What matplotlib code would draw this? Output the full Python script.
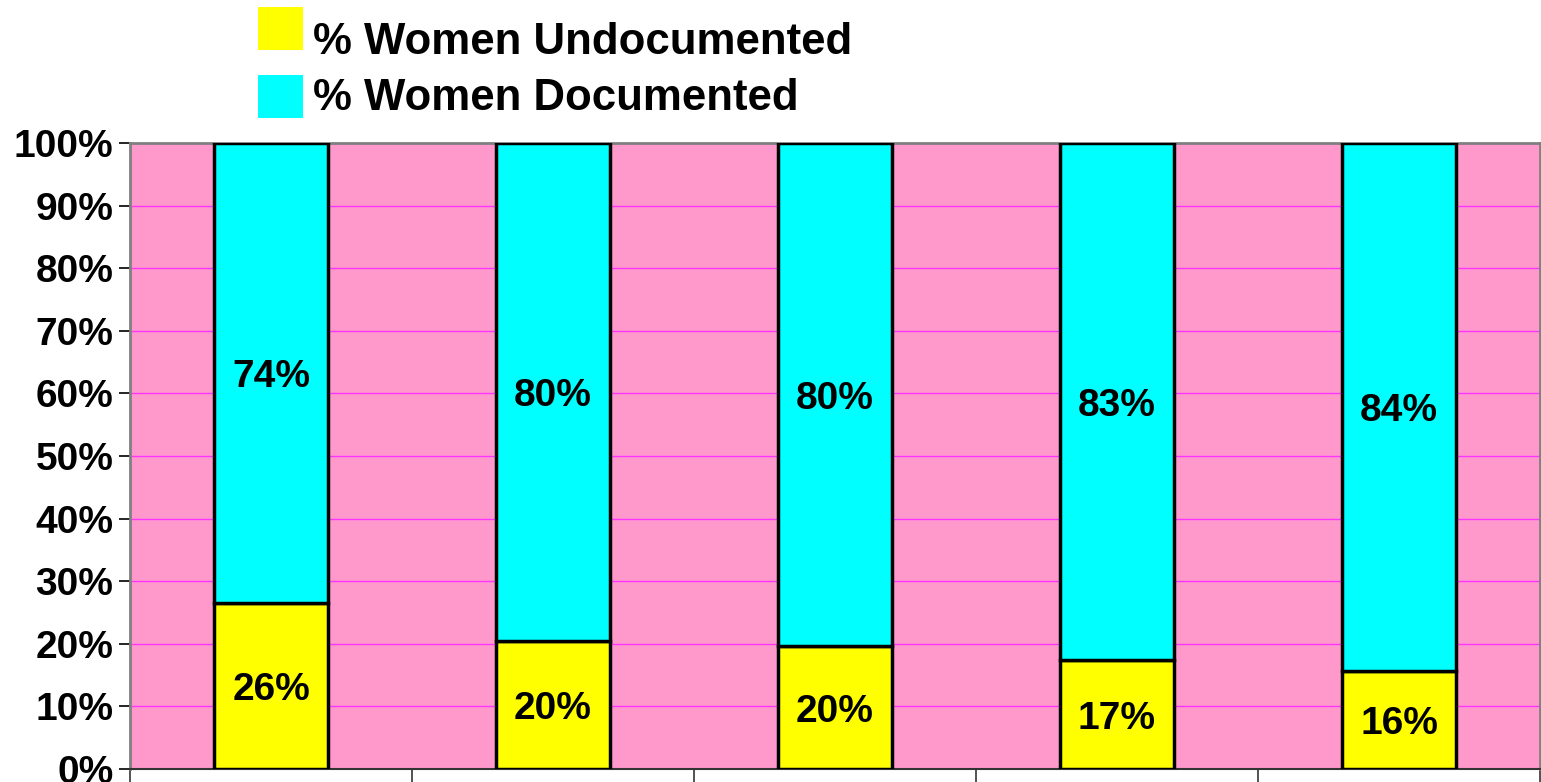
import matplotlib.pyplot as plt
from matplotlib.patches import Rectangle
import numpy as np

categories = ["1", "2", "3", "4", "5"]
undocumented = [26.5, 20.4, 19.6, 17.4, 15.7]
documented = [73.5, 79.6, 80.4, 82.6, 84.3]
undoc_labels = ["26%", "20%", "20%", "17%", "16%"]
doc_labels = ["74%", "80%", "80%", "83%", "84%"]
series_names = ["% Women Undocumented", "% Women Documented"]
series_colors = ["#FFFF00", "#00FFFF"]
yticks = [0, 10, 20, 30, 40, 50, 60, 70, 80, 90, 100]

plt.rcParams['font.family'] = ['Liberation Sans', 'DejaVu Sans']
plt.rcParams['font.weight'] = 'bold'

W, H = 1541, 782
fig = plt.figure(figsize=(W/100, H/100), dpi=100)
ax = fig.add_axes([130/W, 1-769/H, (1540-130)/W, (769-143)/H])
ax.set_facecolor('#FF99CC')

x = np.arange(len(categories))
w = 0.405
ax.bar(x, undocumented, w, color=series_colors[0], edgecolor='black', linewidth=2.5, zorder=3)
ax.bar(x, documented, w, bottom=undocumented, color=series_colors[1], edgecolor='black',
       linewidth=2.5, zorder=3)

for i in range(len(categories)):
    ax.annotate(undoc_labels[i], (x[i], undocumented[i]/2), xytext=(0, -4),
                textcoords='offset pixels', ha='center', va='center',
                fontsize=28, fontweight='bold', zorder=4)
    ax.annotate(doc_labels[i], (x[i], undocumented[i] + documented[i]/2), xytext=(0, -4),
                textcoords='offset pixels', ha='center', va='center',
                fontsize=28, fontweight='bold', zorder=4)

ax.set_xlim(-0.5, len(categories)-0.5)
ax.set_ylim(0, 100)
ax.set_yticks(yticks)
ax.set_yticklabels([f"{t}%" for t in yticks], fontsize=28, fontweight='bold')
ax.set_xticks(np.arange(-0.5, len(categories)))
ax.set_xticklabels([])
ax.tick_params(axis='y', length=8, width=1.2, pad=4, color='black')
ax.tick_params(axis='x', length=10, width=1.2, color='#333333')
ax.yaxis.grid(True, color='#FF33FF', linewidth=1.0, zorder=1)
ax.set_axisbelow(True)

for s in ['top', 'right', 'left']:
    ax.spines[s].set_color('#808080')
    ax.spines[s].set_linewidth(2)
ax.spines['bottom'].set_color('#333333')
ax.spines['bottom'].set_linewidth(1.5)

# legend drawn manually (square tops and text baselines in pixels)
sq_tops = [7, 75]
baselines = [54, 110]
for name, col, st, bl in zip(series_names, series_colors, sq_tops, baselines):
    fig.add_artist(Rectangle((258/W, 1-(st+43)/H), 45/W, 43/H, transform=fig.transFigure,
                             facecolor=col, edgecolor='none'))
    fig.text(313/W, 1-bl/H, name, fontsize=31.5, fontweight='bold', ha='left', va='baseline')

fig.savefig('out.png', dpi=100)
